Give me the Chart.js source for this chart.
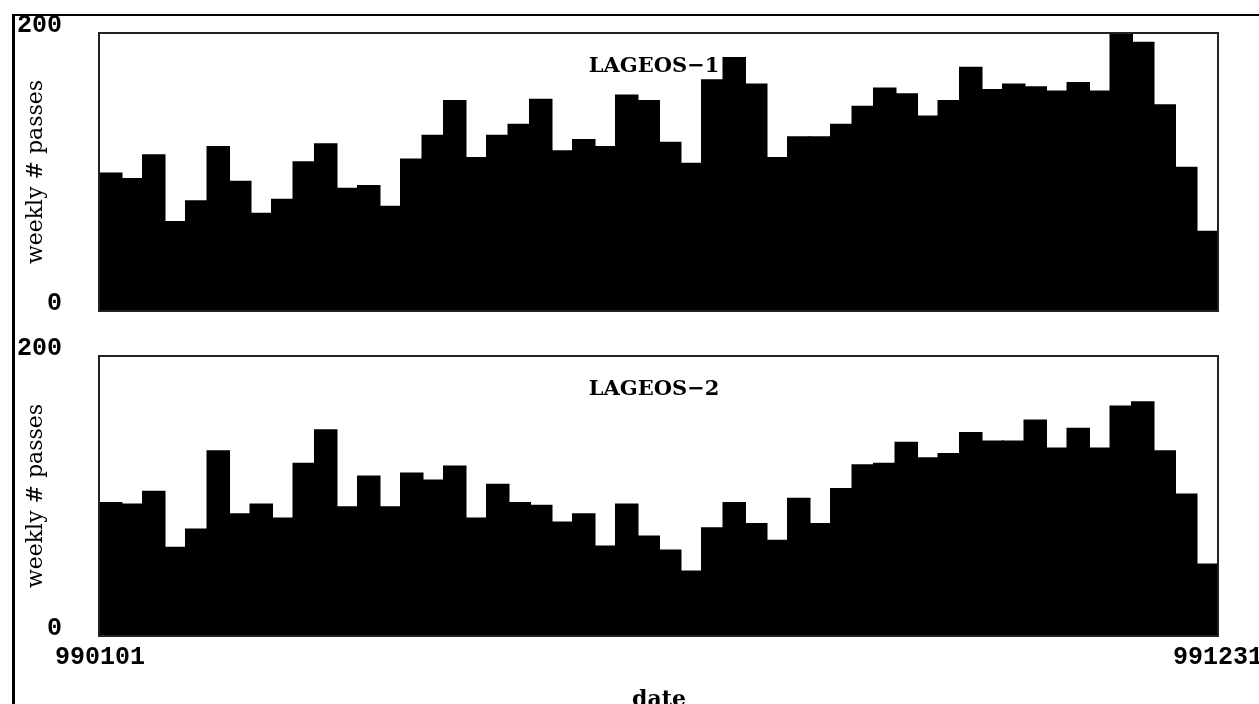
<!DOCTYPE html>
<html>
<head>
<meta charset="utf-8">
<script src="https://cdn.jsdelivr.net/npm/chart.js@4.4.1/dist/chart.umd.min.js"></script>
<style>
    html, body { margin: 0; padding: 0; background: #fff; overflow: hidden; }
    body { width: 1259px; height: 704px; position: relative; }
    #frame {
        position: absolute; left: 12px; top: 14px; width: 1247px; height: 700px;
        border-left: 3px solid #000; border-top: 2px solid #000;
    }
    canvas { position: absolute; left: 0; }
    #c1 { top: 0; }
    #c2 { top: 330px; }
</style>
</head>
<body>
<div id="frame"></div>
<canvas id="c1" width="1259" height="330"></canvas>
<canvas id="c2" width="1259" height="400"></canvas>
<script>
// weekly number of passes, 52 weeks of 1999
const lageos1 = [99, 95, 112, 64, 79, 118, 93, 70, 80, 107, 120, 88, 90, 75, 109, 126, 151, 110, 126, 134,
    152, 115, 123, 118, 155, 151, 121, 106, 166, 182, 163, 110, 125, 125, 134, 147, 160, 156, 140, 151,
    175, 159, 163, 161, 158, 164, 158, 200, 193, 148, 103, 57];
const lageos2 = [95, 94, 103, 63, 76, 132, 87, 94, 84, 123, 147, 92, 114, 92, 116, 111, 121, 84, 108, 95,
    93, 81, 87, 64, 94, 71, 61, 46, 77, 95, 80, 68, 98, 80, 105, 122, 123, 138, 127, 130,
    145, 139, 139, 154, 134, 148, 134, 164, 167, 132, 101, 51];

const panelNames = ["LAGEOS\u22121", "LAGEOS\u22122"];
const yTicks = [0, 200];
const xTickLabels = ["990101", "991231"];
const xTickWeeks = [0, 52];

const monoFont = { family: "'Liberation Mono', 'DejaVu Sans Mono', monospace", size: 25, weight: "bold" };
const serifFont = { family: "'DejaVu Serif', 'Liberation Serif', serif", size: 22 };

// box round the plot area
const boxPlugin = {
    id: "box",
    afterDatasetsDraw(chart) {
        const a = chart.chartArea;
        const ctx = chart.ctx;
        ctx.save();
        ctx.strokeStyle = "#222";
        ctx.lineWidth = 2;
        ctx.strokeRect(a.left - 1, a.top, a.right - a.left + 1, a.bottom - a.top);
        ctx.restore();
    }
};

// satellite name inside the panel
const namePlugin = {
    id: "panelName",
    afterDatasetsDraw(chart, args, opts) {
        const a = chart.chartArea;
        const ctx = chart.ctx;
        ctx.save();
        ctx.font = "bold 21px 'DejaVu Serif', serif";
        ctx.fillStyle = "#000";
        ctx.textAlign = "center";
        ctx.textBaseline = "middle";
        ctx.fillText(opts.text, (a.left + a.right) / 2 - 5, a.top + 34);
        ctx.restore();
    }
};

function makePanel(canvasId, values, name, showX, pad, xHeight) {
    return new Chart(document.getElementById(canvasId), {
        type: "bar",
        data: {
            datasets: [{
                data: values.map((v, i) => ({ x: i + 0.5, y: v })),
                backgroundColor: "#000",
                borderWidth: 0,
                inflateAmount: 1,
                barPercentage: 1,
                categoryPercentage: 1
            }]
        },
        options: {
            responsive: false,
            animation: false,
            layout: { padding: pad },
            plugins: {
                legend: { display: false },
                tooltip: { enabled: false },
                panelName: { text: name }
            },
            scales: {
                x: {
                    type: "linear",
                    display: showX,
                    offset: false,
                    min: 0,
                    max: values.length,
                    grid: { display: false, drawTicks: false },
                    border: { display: false },
                    afterBuildTicks: s => { s.ticks = xTickWeeks.map(v => ({ value: v })); },
                    afterFit: s => {
                        if (xHeight) s.height = xHeight;
                        s.paddingLeft = 0;
                        s.paddingRight = 0;
                    },
                    ticks: {
                        autoSkip: false,
                        maxRotation: 0,
                        padding: 7,
                        color: "#000",
                        font: monoFont,
                        callback: (v, i) => xTickLabels[i]
                    },
                    title: {
                        display: true,
                        text: "date",
                        color: "#000",
                        font: { family: serifFont.family, size: 22, weight: "bold" },
                        padding: { top: 0, bottom: 17 }
                    }
                },
                y: {
                    min: 0,
                    max: 200,
                    grid: { display: false, drawTicks: false },
                    border: { display: false },
                    afterBuildTicks: s => { s.ticks = yTicks.map(v => ({ value: v })); },
                    afterFit: s => {
                        s.width = 100;
                        s.paddingTop = 0;
                        s.paddingBottom = 0;
                    },
                    ticks: {
                        padding: 38,
                        labelOffset: -7,
                        color: "#000",
                        font: monoFont
                    },
                    title: {
                        display: true,
                        text: "weekly # passes",
                        color: "#000",
                        font: serifFont,
                        padding: { top: 23, bottom: 0 }
                    }
                }
            }
        },
        plugins: [boxPlugin, namePlugin]
    });
}

makePanel("c1", lageos1, panelNames[0], false, { left: 0, right: 41, top: 33, bottom: 19 }, 0);
makePanel("c2", lageos2, panelNames[1], true, { left: 0, right: 41, top: 26, bottom: 0 }, 94);
</script>
</body>
</html>
